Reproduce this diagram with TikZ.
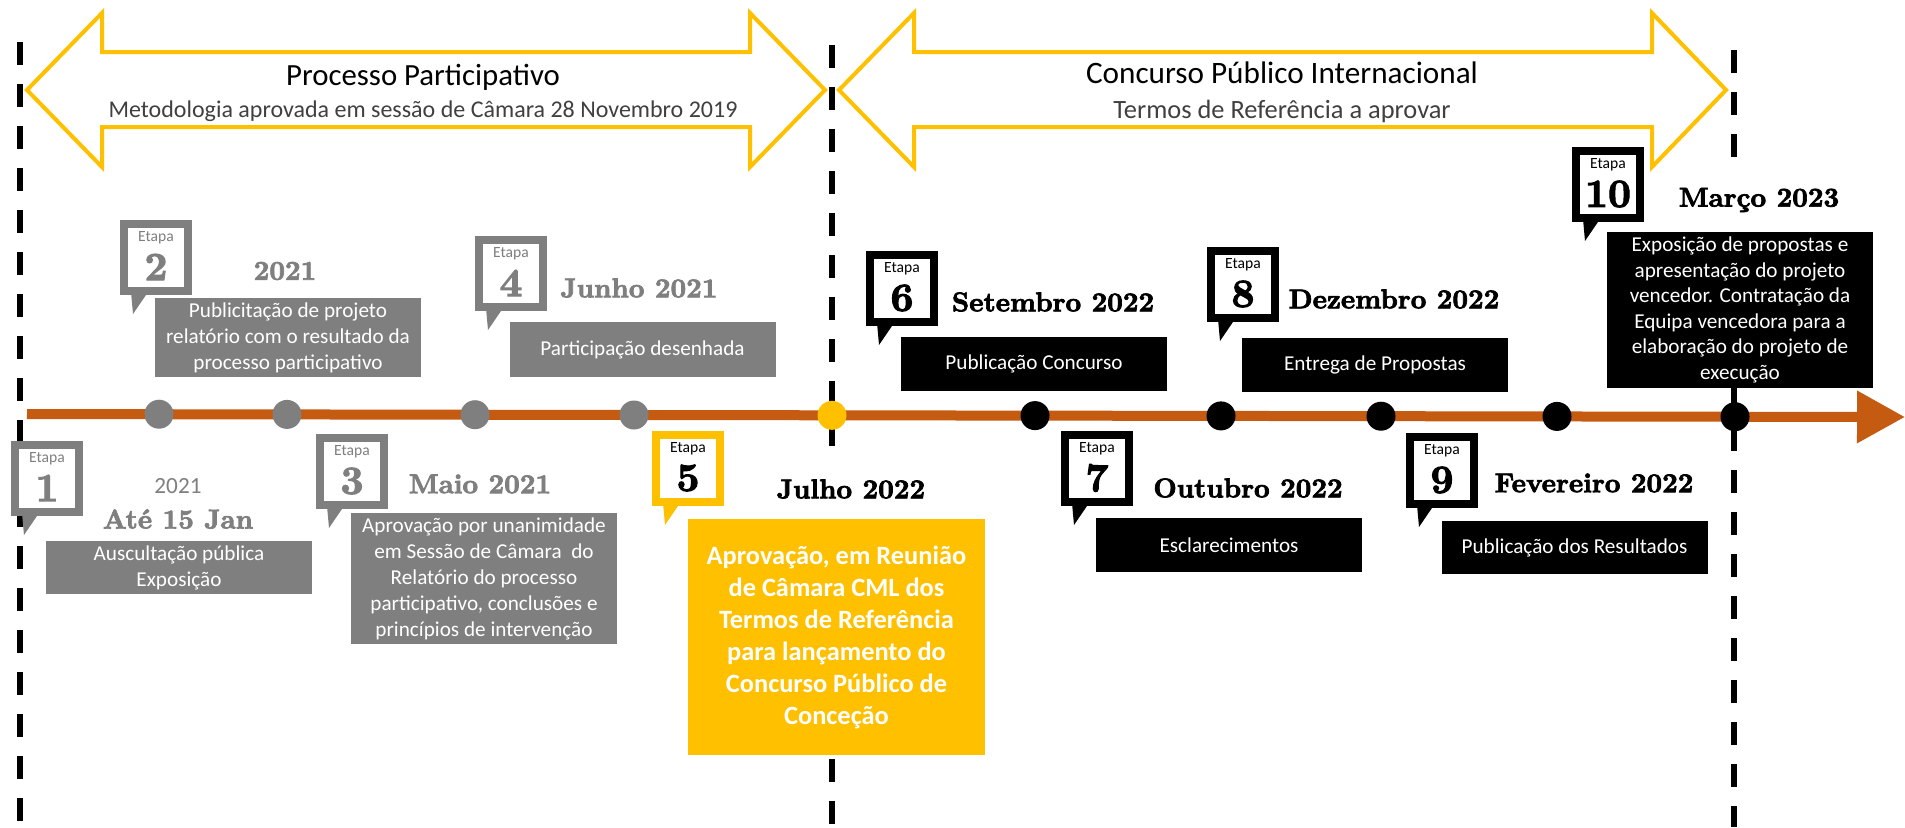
\documentclass[tikz,border=0pt]{standalone}
\usepackage{fontspec}
\usetikzlibrary{arrows.meta,calc}
\newfontfamily\calib{Carlito}
\newfontfamily\dfont{lmroman10-bold.otf}[FakeBold=2.6]
\definecolor{tl}{HTML}{C55A11}
\definecolor{gr}{HTML}{7F7F7F}
\definecolor{yl}{HTML}{FFC000}
\definecolor{dg}{HTML}{404040}
\tikzset{
  dline/.style={line width=3pt, dash pattern=on 11.5pt off 9.5pt},
  bigarrow/.style={draw=yl, line width=2pt, fill=white, line join=miter},
  dot/.style={circle, minimum size=14.5pt, inner sep=0pt},
  tbox/.style={rectangle, inner sep=0pt, text=white, align=center,
    font=\calib\fontsize{10.6}{13}\selectfont, minimum width=133pt},
  datelbl/.style={font=\dfont\fontsize{13.6}{15}\selectfont, fill=white, inner sep=2pt},
  cbox/.style={rectangle, line width=4pt, fill=white, minimum width=32pt,
    minimum height=33.5pt, inner sep=0pt},
}
% name, left, top, colour, number, text colour
\newcommand{\etapa}[6]{%
  \fill[#4] (#2+11,#3+72) -- (#2+28,#3+72) -- (#2+13,#3+94) -- cycle;
  \node[cbox, draw=#4] (#1) at (#2+36,#3+37.5) {};
  \node[font=\calib\fontsize{7.8}{9}\selectfont, text=#6, inner sep=0pt] (#1e) at (#2+36,#3+18) {Etapa};
  \node[font=\dfont\fontsize{20}{20}\selectfont, text=#6, inner sep=0pt] (#1n) at (#2+36,#3+47) {#5};
}
\begin{document}
\begin{tikzpicture}[x=0.5pt,y=-0.5pt]
\useasboundingbox (0,0) rectangle (1905,827);
\fill[white] (0,0) rectangle (1905,827);

% dashed separators
\coordinate (dl1) at (20,42);  \coordinate (dl1b) at (20,827);
\coordinate (dl2) at (832,45); \coordinate (dl2b) at (832,827);
\coordinate (dl3) at (1734,50); \coordinate (dl3b) at (1734,827);
\draw[dline] (dl1) -- (dl1b);
\draw[dline] (dl2) -- (dl2b);
\draw[dline] (dl3) -- (dl3b);

% top double arrows
\draw[bigarrow] (27,90) -- (102,13) -- (102,52) -- (750,52) -- (750,13) -- (825,90)
  -- (750,167) -- (750,127) -- (102,127) -- (102,167) -- cycle;
\draw[bigarrow] (839,90) -- (914,13) -- (914,52) -- (1652,52) -- (1652,13) -- (1726,90)
  -- (1652,167) -- (1652,127) -- (914,127) -- (914,167) -- cycle;
\node[anchor=base, font=\calib\fontsize{15.4}{18}\selectfont] (h1) at (423,85) {Processo Participativo};
\node[anchor=base, font=\calib\fontsize{12}{14}\selectfont, text=dg] (s1) at (423,117) {Metodologia aprovada em sessão de Câmara 28 Novembro 2019};
\node[anchor=base, font=\calib\fontsize{15.6}{18}\selectfont] (h2) at (1282,83) {Concurso Público Internacional};
\node[anchor=base, font=\calib\fontsize{13.2}{15}\selectfont, text=dg] (s2) at (1282,118) {Termos de Referência a aprovar};

% timeline
\coordinate (tls) at (27,414);
\coordinate (tle) at (1905,417);
\draw[line width=5pt, tl, -{Triangle[length=24pt,width=25pt]}] (tls) -- (tle);

% dots
\node[dot, fill=gr] (p1) at (159,414.2) {};
\node[dot, fill=gr] (p2) at (287,414.4) {};
\node[dot, fill=gr] (p3) at (475,414.7) {};
\node[dot, fill=gr] (p4) at (634,415.0) {};
\node[dot, fill=yl] (p5) at (832,415.3) {};
\node[dot, fill=black] (p6) at (1035,415.6) {};
\node[dot, fill=black] (p7) at (1221,415.9) {};
\node[dot, fill=black] (p8) at (1381,416.2) {};
\node[dot, fill=black] (p9) at (1557,416.4) {};
\node[dot, fill=black] (p10) at (1735,416.7) {};

% date labels
\node[datelbl, text=gr] (d2) at (285,271) {2021};
\node[datelbl, text=gr] (d4) at (639,288) {Junho 2021};
\node[font=\calib\fontsize{11.6}{13}\selectfont, text=gr, inner sep=1pt] (d1a) at (178,486) {2021};
\node[datelbl, text=gr] (d1b) at (178,519) {Até 15 Jan};
\node[datelbl, text=gr] (d3) at (480,484) {Maio 2021};
\node[datelbl, minimum height=34pt] (d5) at (851,489) {Julho 2022};
\node[datelbl] (d6) at (1053,302) {Setembro 2022};
\node[datelbl] (d7) at (1248,488) {Outubro 2022};
\node[datelbl] (d8) at (1394,299) {Dezembro 2022};
\node[datelbl] (d9) at (1594,483) {Fevereiro 2022};
\node[datelbl, minimum height=32pt] (d10) at (1759,200) {Março 2023};

% text boxes
\node[tbox, fill=gr, minimum height=26.5pt] (b1) at (179,567.5) {Auscultação pública\\Exposição};
\node[tbox, fill=gr, minimum height=39.5pt] (b2) at (288,337.5) {Publicitação de projeto\\relatório com o resultado da\\processo participativo};
\node[tbox, fill=gr, minimum height=65.5pt] (b3) at (484,578.5) {Aprovação por unanimidade\\em Sessão de Câmara~ do\\Relatório do processo\\participativo, conclusões e\\princípios de intervenção};
\node[tbox, fill=gr, minimum height=27.5pt] (b4) at (642.5,349.5) {Participação desenhada};
\node[tbox, fill=yl, minimum width=148.5pt, minimum height=118pt,
  font=\calib\bfseries\fontsize{13.2}{16}\selectfont] (b5) at (836.5,637)
  {Aprovação, em Reunião\\de Câmara CML dos\\Termos de Referência\\para lançamento do\\Concurso Público de\\Conceção};
\node[tbox, fill=black, minimum height=27pt] (b6) at (1034,364) {Publicação Concurso};
\node[tbox, fill=black, minimum height=27pt] (b7) at (1229,545) {Esclarecimentos};
\node[tbox, fill=black, minimum height=27pt] (b8) at (1375,365) {Entrega de Propostas};
\node[tbox, fill=black, minimum height=26.5pt] (b9) at (1574.5,547.5) {Publicação dos Resultados};
\node[tbox, fill=black, minimum height=78pt, font=\calib\fontsize{10.6}{12.8}\selectfont] (b10) at (1740,310)
  {Exposição de propostas e\\apresentação do projeto\\vencedor. Contratação da\\Equipa vencedora para a\\elaboração do projeto de\\execução};

% Etapa callouts
\etapa{c1}{11}{441}{gr}{1}{gr}
\etapa{c2}{120}{220}{gr}{2}{gr}
\etapa{c3}{316}{434}{gr}{3}{gr}
\etapa{c4}{475}{236}{gr}{4}{gr}
\etapa{c5}{652}{431}{yl}{5}{black}
\etapa{c6}{866}{251}{black}{6}{black}
\etapa{c7}{1061}{431}{black}{7}{black}
\etapa{c8}{1207}{247}{black}{8}{black}
\etapa{c9}{1406}{433}{black}{9}{black}
\etapa{c10}{1572}{147}{black}{10}{black}
\end{tikzpicture}
\end{document}
